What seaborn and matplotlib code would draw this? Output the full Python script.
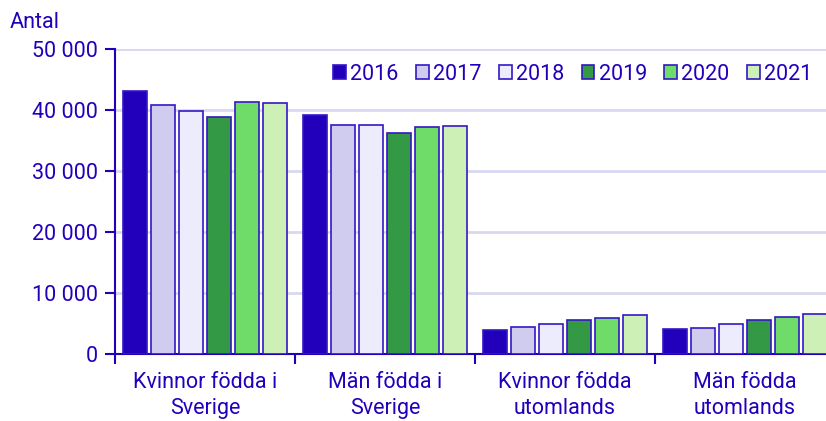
import pandas as pd
import matplotlib
matplotlib.use("Agg")
import matplotlib.pyplot as plt
from matplotlib.ticker import FuncFormatter, FixedLocator
import seaborn as sns

sns.set_theme(style="white")
plt.rcParams['font.family'] = ['Roboto', 'DejaVu Sans']

groups = ["Kvinnor födda i\nSverige", "Män födda i\nSverige",
          "Kvinnor födda\nutomlands", "Män födda\nutomlands"]
years = ["2016", "2017", "2018", "2019", "2020", "2021"]
v2016 = [43150, 39200, 4000, 4100]
v2017 = [40800, 37600, 4400, 4300]
v2018 = [39800, 37500, 5000, 5000]
v2019 = [38900, 36200, 5500, 5500]
v2020 = [41300, 37200, 5900, 6100]
v2021 = [41200, 37300, 6400, 6600]
colors = ["#2200bb", "#d0ccf0", "#ececfc", "#339944", "#6fdc6a", "#cdf0b6"]

txt = "#2200bb"
fs = 15.5
rows = []
for y, vals in zip(years, [v2016, v2017, v2018, v2019, v2020, v2021]):
    for g, v in zip(groups, vals):
        rows.append({"grupp": g, "år": y, "antal": v})
df = pd.DataFrame(rows)

fig = plt.figure(figsize=(8.26, 4.21), dpi=100)
ax = fig.add_axes([115/826, 67/421, 720/826, 305/421])

sns.barplot(data=df, x="grupp", y="antal", hue="år", order=groups, hue_order=years,
            palette=dict(zip(years, colors)), saturation=1, width=0.93, gap=0.14,
            edgecolor="#3418c4", linewidth=1.2, ax=ax, zorder=3)

ax.set_ylim(0, 50000)
ax.set_xlim(-0.5, 3.5)
ax.yaxis.set_major_locator(FixedLocator([0, 10000, 20000, 30000, 40000, 50000]))
ax.yaxis.set_major_formatter(FuncFormatter(lambda v, p: f"{int(v):,}".replace(",", " ")))
ax.grid(axis="y", color="#d8d8f2", linewidth=2, zorder=0)
ax.set_axisbelow(True)

for s in ["top", "right"]:
    ax.spines[s].set_visible(False)
for s in ["left", "bottom"]:
    ax.spines[s].set_color(txt)
    ax.spines[s].set_linewidth(1.5)

ax.tick_params(axis="y", colors=txt, labelsize=fs, length=7, width=1.5, direction="out", left=True, pad=5)
ax.tick_params(axis="x", which="major", colors=txt, labelsize=fs, length=0, pad=13)
ax.set_xticks([-0.5, 0.5, 1.5, 2.5, 3.5], minor=True)
ax.tick_params(axis="x", which="minor", color=txt, length=7, width=1.5, direction="out", bottom=True)
for lab in ax.get_xticklabels():
    lab.set_linespacing(1.3)

ax.set_xlabel("")
ax.set_ylabel("")
fig.text(10/826, 1 - 22/421, "Antal", color=txt, fontsize=fs, va="center", ha="left")

leg = ax.legend(ncol=6, loc="center right", bbox_to_anchor=((821 - 115)/720, (354 - 74)/305),
                frameon=False, fontsize=fs, handlelength=0.6, handleheight=0.6,
                handletextpad=0.2, columnspacing=0.8, borderaxespad=0)
for t in leg.get_texts():
    t.set_color(txt)

fig.savefig("out.png", dpi=100)
